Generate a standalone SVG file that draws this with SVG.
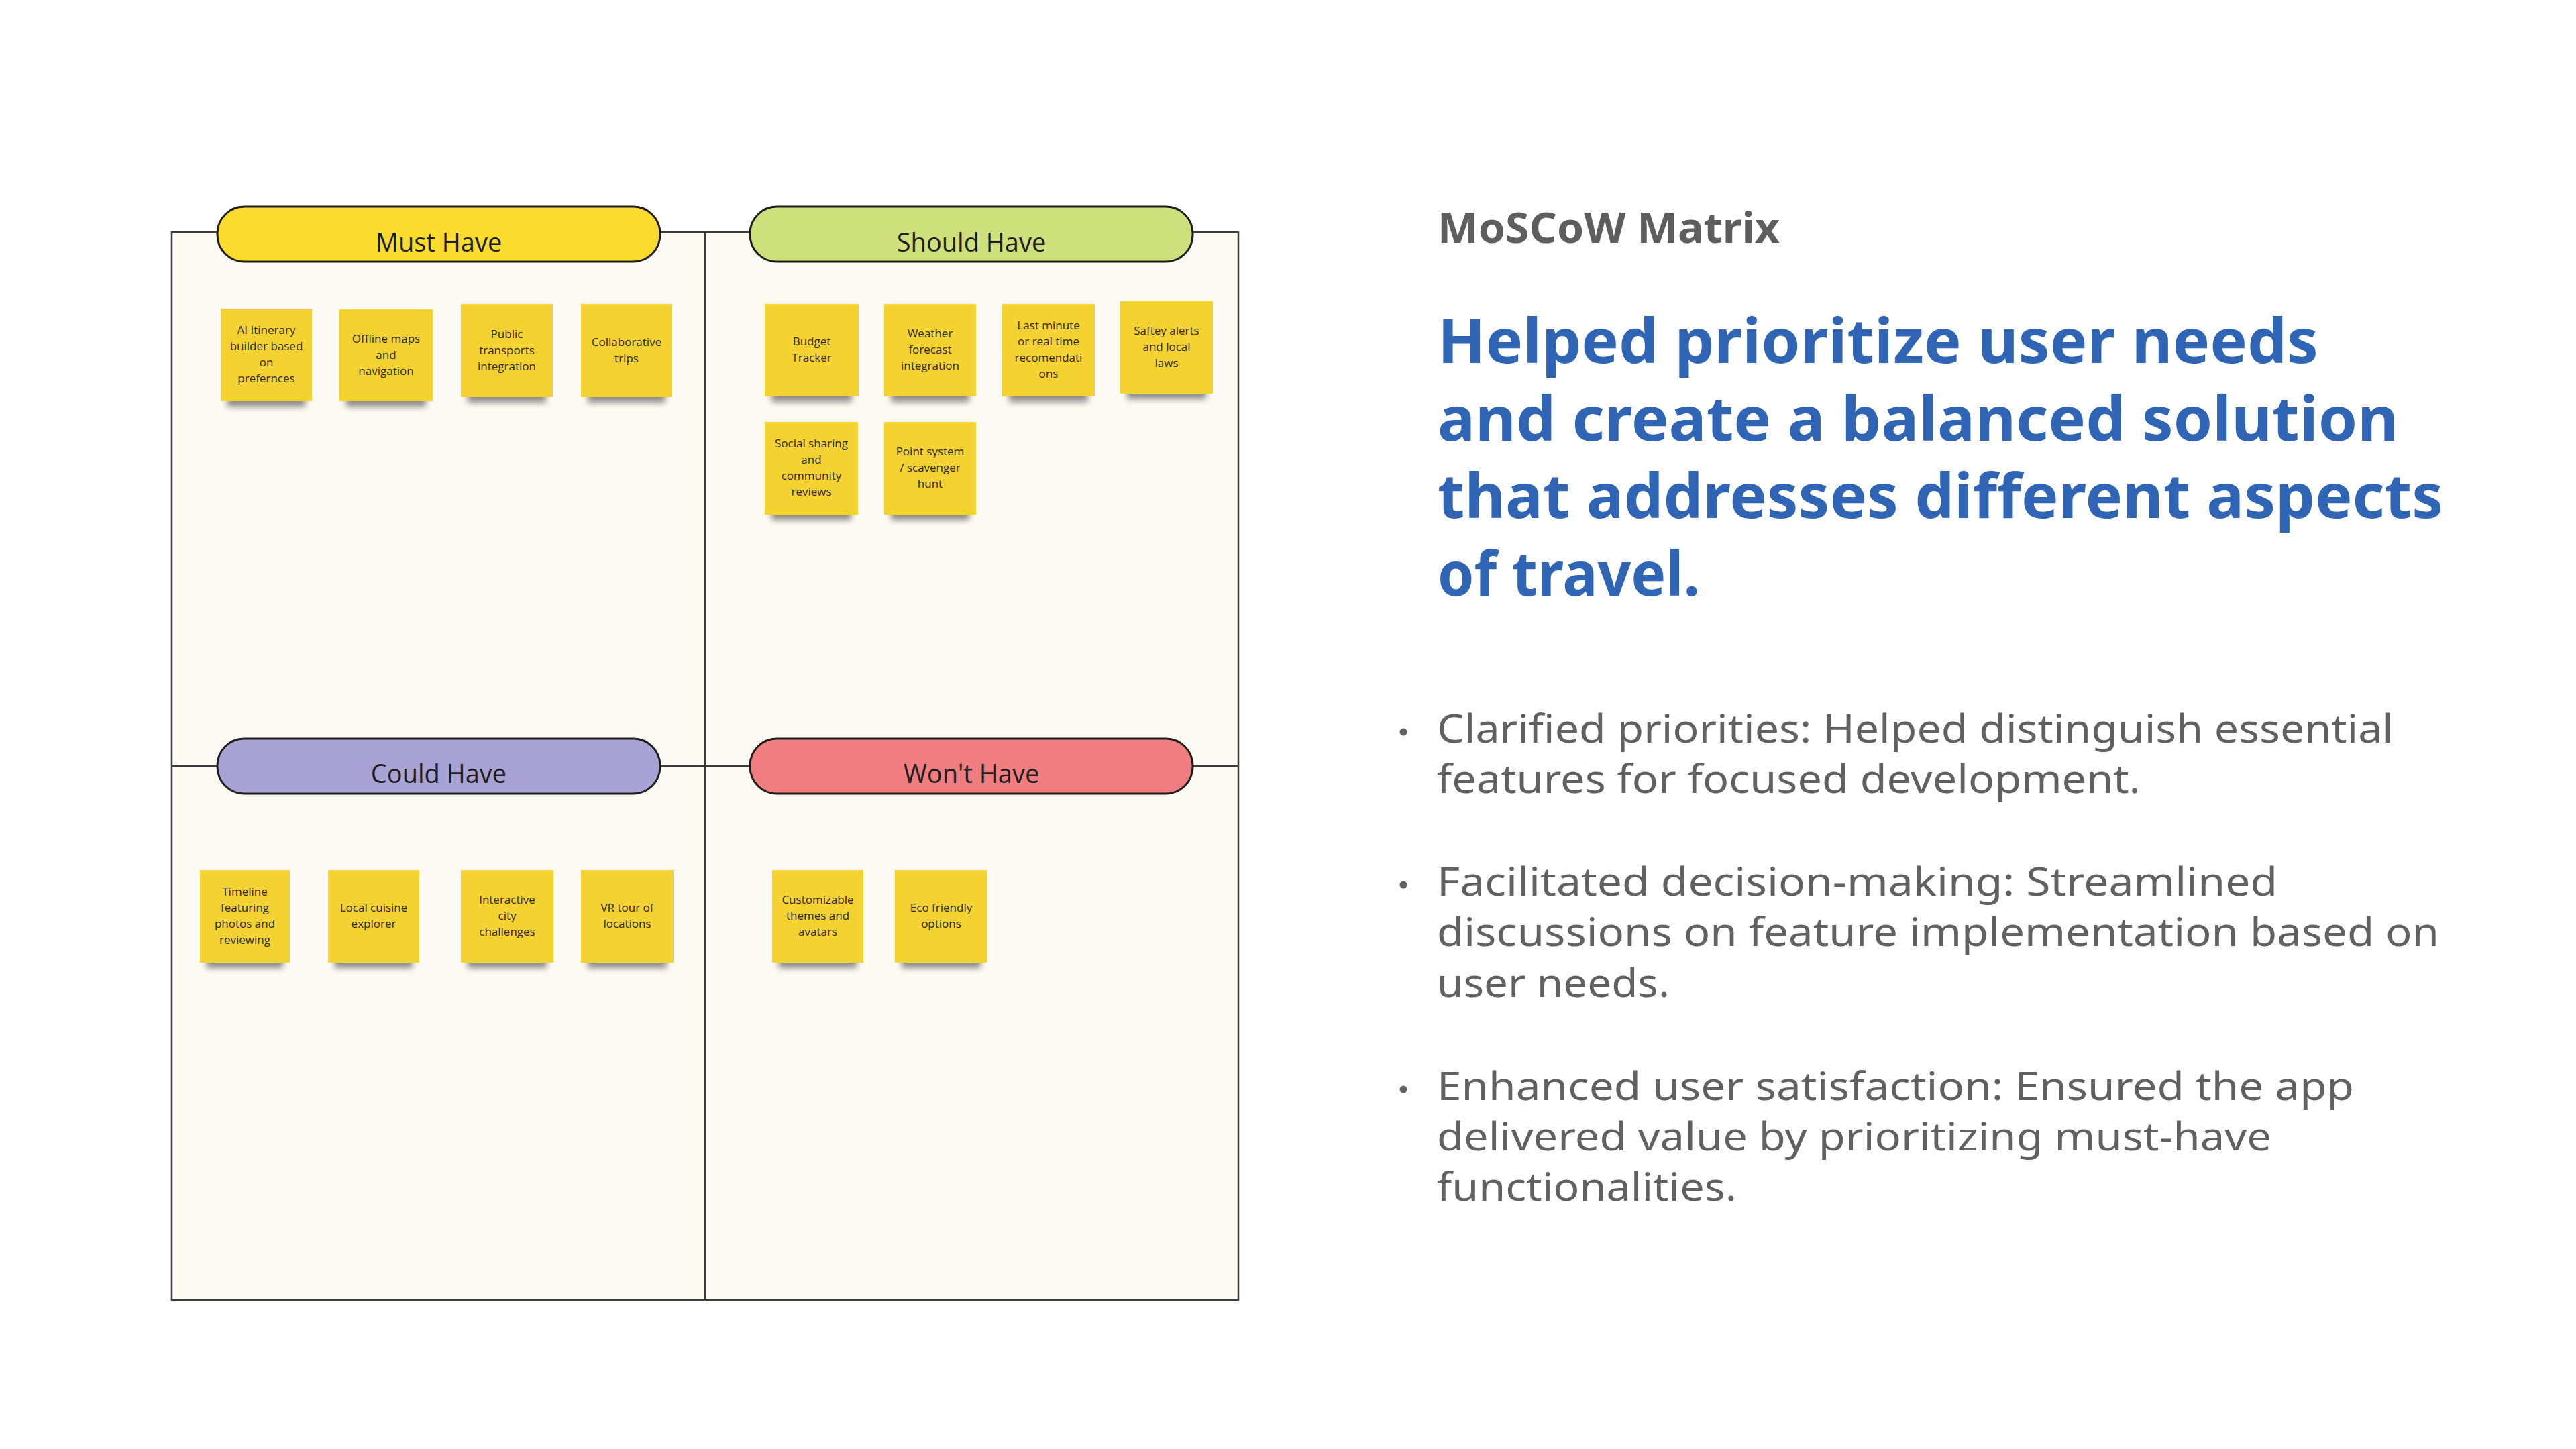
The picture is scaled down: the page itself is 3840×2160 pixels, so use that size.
<svg xmlns="http://www.w3.org/2000/svg" width="3840" height="2160" viewBox="0 0 3840 2160">
<defs>
<filter id="sh" x="-30%" y="-100%" width="160%" height="300%"><feGaussianBlur stdDeviation="5"/></filter>
<style>
.board{fill:#fcfaf3;stroke:#3a3a3a;stroke-width:2.5}
.div{stroke:#3a3a3a;stroke-width:2.5;fill:none}
.pill{stroke:#1e1e1e;stroke-width:3}
.plabel{font-family:"Open Sans","Liberation Sans",sans-serif;font-size:38px;fill:#1e1e1e;text-anchor:middle}
.note{fill:#f3d232}
.shadow{fill:#000;opacity:0.45;filter:url(#sh)}
.nt{font-family:"Open Sans","Liberation Sans",sans-serif;font-size:17px;fill:#2e2a20;text-anchor:middle}
.title{font-family:"Noto Sans","Liberation Sans",sans-serif;font-weight:700;font-size:62px;fill:#5e5e5e}
.head{font-family:"Noto Sans","Liberation Sans",sans-serif;font-weight:700;font-size:92px;fill:#3064b4}
.body{font-family:"Noto Sans","Liberation Sans",sans-serif;font-size:59px;fill:#616161}
.dot{fill:#616161}
</style>
</defs>
<rect width="3840" height="2160" fill="#ffffff"/>

<g id="board">
<rect class="board" x="256" y="346" width="1590" height="1592"/>
</g>
<g id="connectors">
<line class="div" x1="1051" y1="346" x2="1051" y2="1938"/>
<line class="div" x1="256" y1="1142" x2="1846" y2="1142"/>
</g>

<g id="must-have">
<rect class="pill" x="324" y="308" width="660" height="82" rx="40" fill="#fadb2e"/>
<text class="plabel" x="654" y="375">Must Have</text>
</g>
<g id="should-have">
<rect class="pill" x="1118" y="308" width="660" height="82" rx="40" fill="#cde07b"/>
<text class="plabel" x="1448" y="375">Should Have</text>
</g>
<g id="could-have">
<rect class="pill" x="324" y="1101" width="660" height="82" rx="40" fill="#a9a3d5"/>
<text class="plabel" x="654" y="1167">Could Have</text>
</g>
<g id="wont-have">
<rect class="pill" x="1118" y="1101" width="660" height="82" rx="40" fill="#f07e80"/>
<text class="plabel" x="1448" y="1167">Won't Have</text>
</g>

<g id="note-m1">
<rect class="shadow" x="339" y="582" width="116" height="24"/>
<rect class="note" x="329" y="460" width="136" height="138"/>
<text class="nt"><tspan x="397" y="498">AI Itinerary</tspan><tspan x="397" y="522">builder based</tspan><tspan x="397" y="546">on</tspan><tspan x="397" y="570">prefernces</tspan></text>
</g>
<g id="note-m2">
<rect class="shadow" x="516" y="582" width="119" height="24"/>
<rect class="note" x="506" y="461" width="139" height="137"/>
<text class="nt"><tspan x="575.5" y="510.5">Offline maps</tspan><tspan x="575.5" y="534.5">and</tspan><tspan x="575.5" y="558.5">navigation</tspan></text>
</g>
<g id="note-m3">
<rect class="shadow" x="697" y="576" width="117" height="24"/>
<rect class="note" x="687" y="453" width="137" height="139"/>
<text class="nt"><tspan x="755.5" y="503.5">Public</tspan><tspan x="755.5" y="527.5">transports</tspan><tspan x="755.5" y="551.5">integration</tspan></text>
</g>
<g id="note-m4">
<rect class="shadow" x="876" y="576" width="116" height="24"/>
<rect class="note" x="866" y="453" width="136" height="139"/>
<text class="nt"><tspan x="934" y="515.5">Collaborative</tspan><tspan x="934" y="539.5">trips</tspan></text>
</g>

<g id="note-s1">
<rect class="shadow" x="1150" y="575" width="120" height="24"/>
<rect class="note" x="1140" y="453" width="140" height="138"/>
<text class="nt"><tspan x="1210" y="515">Budget</tspan><tspan x="1210" y="539">Tracker</tspan></text>
</g>
<g id="note-s2">
<rect class="shadow" x="1328" y="575" width="117" height="24"/>
<rect class="note" x="1318" y="453" width="137" height="138"/>
<text class="nt"><tspan x="1386.5" y="503">Weather</tspan><tspan x="1386.5" y="527">forecast</tspan><tspan x="1386.5" y="551">integration</tspan></text>
</g>
<g id="note-s3">
<rect class="shadow" x="1504" y="575" width="118" height="24"/>
<rect class="note" x="1494" y="453" width="138" height="138"/>
<text class="nt"><tspan x="1563" y="491">Last minute</tspan><tspan x="1563" y="515">or real time</tspan><tspan x="1563" y="539">recomendati</tspan><tspan x="1563" y="563">ons</tspan></text>
</g>
<g id="note-s4">
<rect class="shadow" x="1680" y="571" width="118" height="24"/>
<rect class="note" x="1670" y="449" width="138" height="138"/>
<text class="nt"><tspan x="1739" y="499">Saftey alerts</tspan><tspan x="1739" y="523">and local</tspan><tspan x="1739" y="547">laws</tspan></text>
</g>
<g id="note-s5">
<rect class="shadow" x="1150" y="751" width="119" height="24"/>
<rect class="note" x="1140" y="629" width="139" height="138"/>
<text class="nt"><tspan x="1209.5" y="667">Social sharing</tspan><tspan x="1209.5" y="691">and</tspan><tspan x="1209.5" y="715">community</tspan><tspan x="1209.5" y="739">reviews</tspan></text>
</g>
<g id="note-s6">
<rect class="shadow" x="1328" y="751" width="117" height="24"/>
<rect class="note" x="1318" y="629" width="137" height="138"/>
<text class="nt"><tspan x="1386.5" y="679">Point system</tspan><tspan x="1386.5" y="703">/ scavenger</tspan><tspan x="1386.5" y="727">hunt</tspan></text>
</g>

<g id="note-c1">
<rect class="shadow" x="308" y="1419" width="114" height="24"/>
<rect class="note" x="298" y="1297" width="134" height="138"/>
<text class="nt"><tspan x="365" y="1335">Timeline</tspan><tspan x="365" y="1359">featuring</tspan><tspan x="365" y="1383">photos and</tspan><tspan x="365" y="1407">reviewing</tspan></text>
</g>
<g id="note-c2">
<rect class="shadow" x="499" y="1419" width="116" height="24"/>
<rect class="note" x="489" y="1297" width="136" height="138"/>
<text class="nt"><tspan x="557" y="1359">Local cuisine</tspan><tspan x="557" y="1383">explorer</tspan></text>
</g>
<g id="note-c3">
<rect class="shadow" x="697" y="1419" width="118" height="24"/>
<rect class="note" x="687" y="1297" width="138" height="138"/>
<text class="nt"><tspan x="756" y="1347">Interactive</tspan><tspan x="756" y="1371">city</tspan><tspan x="756" y="1395">challenges</tspan></text>
</g>
<g id="note-c4">
<rect class="shadow" x="876" y="1419" width="118" height="24"/>
<rect class="note" x="866" y="1297" width="138" height="138"/>
<text class="nt"><tspan x="935" y="1359">VR tour of</tspan><tspan x="935" y="1383">locations</tspan></text>
</g>

<g id="note-w1">
<rect class="shadow" x="1161" y="1419" width="116" height="24"/>
<rect class="note" x="1151" y="1297" width="136" height="138"/>
<text class="nt"><tspan x="1219" y="1347">Customizable</tspan><tspan x="1219" y="1371">themes and</tspan><tspan x="1219" y="1395">avatars</tspan></text>
</g>
<g id="note-w2">
<rect class="shadow" x="1344" y="1419" width="118" height="24"/>
<rect class="note" x="1334" y="1297" width="138" height="138"/>
<text class="nt"><tspan x="1403" y="1359">Eco friendly</tspan><tspan x="1403" y="1383">options</tspan></text>
</g>

<g id="title">
<text class="title" x="2143" y="362" textLength="510" lengthAdjust="spacingAndGlyphs">MoSCoW Matrix</text>
</g>
<g id="heading">
<text class="head" x="2143" y="541" textLength="1313" lengthAdjust="spacingAndGlyphs">Helped prioritize user needs</text>
<text class="head" x="2143" y="657" textLength="1432" lengthAdjust="spacingAndGlyphs">and create a balanced solution</text>
<text class="head" x="2143" y="772" textLength="1499" lengthAdjust="spacingAndGlyphs">that addresses different aspects</text>
<text class="head" x="2143" y="888" textLength="391" lengthAdjust="spacingAndGlyphs">of travel.</text>
</g>
<g id="bullet-1">
<circle class="dot" cx="2092" cy="1091" r="5.5"/>
<text class="body" x="2142" y="1107" textLength="1426" lengthAdjust="spacingAndGlyphs">Clarified priorities: Helped distinguish essential</text>
<text class="body" x="2142" y="1182" textLength="1049" lengthAdjust="spacingAndGlyphs">features for focused development.</text>
</g>
<g id="bullet-2">
<circle class="dot" cx="2092" cy="1319" r="5.5"/>
<text class="body" x="2142" y="1335" textLength="1253" lengthAdjust="spacingAndGlyphs">Facilitated decision-making: Streamlined</text>
<text class="body" x="2142" y="1410" textLength="1494" lengthAdjust="spacingAndGlyphs">discussions on feature implementation based on</text>
<text class="body" x="2142" y="1486" textLength="347" lengthAdjust="spacingAndGlyphs">user needs.</text>
</g>
<g id="bullet-3">
<circle class="dot" cx="2092" cy="1624" r="5.5"/>
<text class="body" x="2142" y="1640" textLength="1367" lengthAdjust="spacingAndGlyphs">Enhanced user satisfaction: Ensured the app</text>
<text class="body" x="2142" y="1715" textLength="1244" lengthAdjust="spacingAndGlyphs">delivered value by prioritizing must-have</text>
<text class="body" x="2142" y="1790" textLength="447" lengthAdjust="spacingAndGlyphs">functionalities.</text>
</g>
</svg>
